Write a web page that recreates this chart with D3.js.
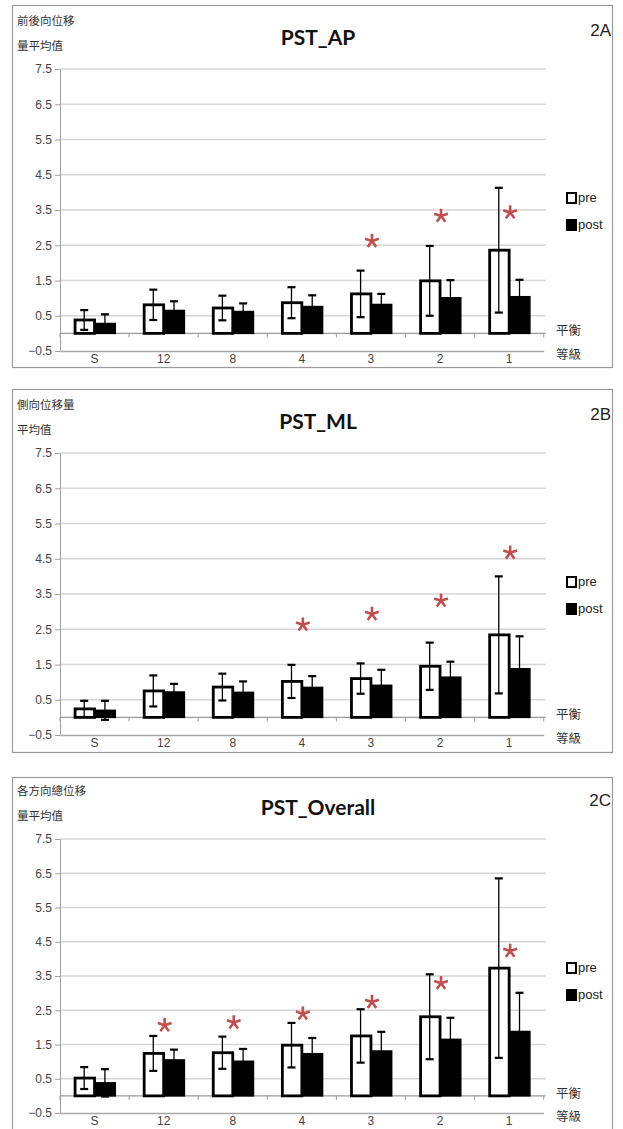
<!DOCTYPE html>
<html>
<head>
<meta charset="utf-8">
<script src="https://cdn.jsdelivr.net/npm/d3@7"></script>
<style>
  body { margin: 0; background: #fff; }
  text { font-family: "Liberation Sans Narrow", "Liberation Sans", Arial, sans-serif; }
  .cjk { font-family: "Noto Sans CJK TC", "Noto Sans CJK SC", sans-serif; }
  .title { font-family: Lato, "Open Sans", sans-serif; font-weight: bold; }
</style>
</head>
<body>
<div id="chart"></div>
<script>
// balance levels on the x axis
const categories = ['S', '12', '8', '4', '3', '2', '1'];
const yTicks = [-0.5, 0.5, 1.5, 2.5, 3.5, 4.5, 5.5, 6.5, 7.5];

// 2A  PST_AP
const apPre = [0.38, 0.81, 0.72, 0.87, 1.12, 1.49, 2.36];
const apPreSd = [0.28, 0.43, 0.35, 0.44, 0.66, 0.99, 1.77];
const apPost = [0.28, 0.65, 0.62, 0.76, 0.82, 1.01, 1.04];
const apPostSd = [0.26, 0.26, 0.23, 0.32, 0.30, 0.50, 0.48];
const apStars = [null, null, null, null, 2.62, 3.33, 3.43];

// 2B  PST_ML
const mlPre = [0.24, 0.75, 0.86, 1.02, 1.10, 1.45, 2.34];
const mlPreSd = [0.23, 0.44, 0.38, 0.47, 0.43, 0.67, 1.66];
const mlPost = [0.20, 0.72, 0.71, 0.85, 0.91, 1.14, 1.38];
const mlPostSd = [0.27, 0.23, 0.31, 0.32, 0.44, 0.44, 0.92];
const mlStars = [null, null, null, 2.63, 2.93, 3.31, 4.67];

// 2C  PST_Overall
const ovPre = [0.52, 1.24, 1.26, 1.48, 1.75, 2.31, 3.73];
const ovPreSd = [0.32, 0.51, 0.47, 0.65, 0.78, 1.24, 2.62];
const ovPost = [0.38, 1.05, 1.01, 1.23, 1.31, 1.65, 1.88];
const ovPostSd = [0.40, 0.30, 0.36, 0.46, 0.56, 0.63, 1.13];
const ovStars = [null, 2.06, 2.14, 2.40, 2.74, 3.29, 4.23];

const W = 623, H = 1129;
const svg = d3.select('#chart').append('svg')
    .attr('width', W)
    .attr('height', H);

// 5-arm asterisk used for the significance marks
const asterisk = {
    draw(context, size) {
        const r = Math.sqrt(size) / 2;
        for (let k = 0; k < 5; k++) {
            const a = -Math.PI / 2 + k * 2 * Math.PI / 5;
            context.moveTo(0, 0);
            context.lineTo(r * Math.cos(a), r * Math.sin(a));
        }
    }
};

const panels = [
    {frameTop: 5.5, frameBottom: 367.5, yTop: 69, yBottom: 351, title: 'PST_AP', tag: '2A',
     ylab: ['前後向位移', '量平均值'], pre: apPre, preSd: apPreSd, post: apPost, postSd: apPostSd, stars: apStars},
    {frameTop: 389.5, frameBottom: 752.5, yTop: 453, yBottom: 735, title: 'PST_ML', tag: '2B',
     ylab: ['側向位移量', '平均值'], pre: mlPre, preSd: mlPreSd, post: mlPost, postSd: mlPostSd, stars: mlStars},
    {frameTop: 777.5, frameBottom: 1140, yTop: 839, yBottom: 1113, title: 'PST_Overall', tag: '2C',
     ylab: ['各方向總位移', '量平均值'], pre: ovPre, preSd: ovPreSd, post: ovPost, postSd: ovPostSd, stars: ovStars}
];

const left = 60, right = 543.7;

panels.forEach(p => {
    const g = svg.append('g');

    // frame
    g.append('rect')
        .attr('x', 12.5).attr('y', p.frameTop)
        .attr('width', 600).attr('height', p.frameBottom - p.frameTop)
        .attr('fill', 'none')
        .attr('stroke', '#9a9a9a')
        .attr('stroke-width', 1.2);

    const y = d3.scaleLinear().domain([-0.5, 7.5]).range([p.yBottom, p.yTop]);
    const x = d3.scaleBand().domain(categories).range([left, right])
        .paddingInner(0.4).paddingOuter(0.2);
    const xs = d3.scaleBand().domain(['pre', 'post']).range([0, x.bandwidth()]);
    const step = x.step();

    // gridlines
    g.selectAll('.grid')
        .data(yTicks.filter(d => d > -0.5))
        .enter().append('line')
        .attr('x1', left).attr('x2', left + 7 * step + 2)
        .attr('y1', d => y(d)).attr('y2', d => y(d))
        .attr('stroke', '#d6d6d6')
        .attr('stroke-width', 1.5);

    // y axis
    const yAxis = g.append('g')
        .attr('transform', `translate(${left},0)`)
        .call(d3.axisLeft(y).tickValues(yTicks).tickFormat(d3.format('.1f')).tickSize(5).tickSizeOuter(0));
    yAxis.select('.domain').attr('stroke', '#a0a0a0');
    yAxis.selectAll('.tick line').attr('stroke', '#a0a0a0');
    yAxis.selectAll('.tick text')
        .attr('fill', '#444')
        .attr('font-size', 12)
        .attr('font-family', '"Liberation Sans Narrow", "Liberation Sans", sans-serif');

    // x axis labels along the -0.5 line
    const xAxis = g.append('g')
        .attr('transform', `translate(0,${y(-0.5)})`)
        .call(d3.axisBottom(x).tickSize(0).tickPadding(3).tickSizeOuter(0));
    xAxis.select('.domain').attr('stroke', '#a8a8a8').attr('stroke-width', 1.3);
    xAxis.selectAll('.tick text')
        .attr('fill', '#444')
        .attr('font-size', 12)
        .attr('font-family', '"Liberation Sans Narrow", "Liberation Sans", sans-serif');

    // zero baseline with category separators
    g.append('line')
        .attr('x1', left).attr('x2', left + 7 * step + 2)
        .attr('y1', y(0)).attr('y2', y(0))
        .attr('stroke', '#9a9a9a')
        .attr('stroke-width', 1.3);
    g.selectAll('.sep')
        .data(d3.range(8))
        .enter().append('line')
        .attr('x1', i => left + i * step).attr('x2', i => left + i * step)
        .attr('y1', y(0)).attr('y2', y(0) + 4)
        .attr('stroke', '#9a9a9a');

    const rows = categories.map((c, i) => ({
        c,
        pre: p.pre[i], preSd: p.preSd[i],
        post: p.post[i], postSd: p.postSd[i],
        star: p.stars[i]
    }));

    // bars
    const bw = xs.bandwidth();
    g.selectAll('.post')
        .data(rows)
        .enter().append('rect')
        .attr('x', d => x(d.c) + xs('post'))
        .attr('y', d => y(d.post))
        .attr('width', bw)
        .attr('height', d => y(0) - y(d.post))
        .attr('fill', '#000')
        .attr('stroke', '#000')
        .attr('stroke-width', 1.5);
    g.selectAll('.pre')
        .data(rows)
        .enter().append('rect')
        .attr('x', d => x(d.c) + xs('pre') + 1.25)
        .attr('y', d => y(d.pre))
        .attr('width', bw - 1.25)
        .attr('height', d => y(0) - y(d.pre))
        .attr('fill', '#fff')
        .attr('stroke', '#000')
        .attr('stroke-width', 2.8);

    // error bars
    const errs = [];
    rows.forEach(d => {
        errs.push({cx: x(d.c) + xs('pre') + bw / 2, m: d.pre, s: d.preSd});
        errs.push({cx: x(d.c) + xs('post') + bw / 2, m: d.post, s: d.postSd});
    });
    const eg = g.selectAll('.err')
        .data(errs)
        .enter().append('g')
        .attr('stroke', '#000');
    eg.append('line')
        .attr('x1', d => d.cx).attr('x2', d => d.cx)
        .attr('y1', d => y(d.m + d.s)).attr('y2', d => y(d.m - d.s))
        .attr('stroke-width', 1.3);
    eg.append('line')
        .attr('x1', d => d.cx - 4).attr('x2', d => d.cx + 4)
        .attr('y1', d => y(d.m + d.s)).attr('y2', d => y(d.m + d.s))
        .attr('stroke-width', 2.2);
    eg.append('line')
        .attr('x1', d => d.cx - 4).attr('x2', d => d.cx + 4)
        .attr('y1', d => y(d.m - d.s)).attr('y2', d => y(d.m - d.s))
        .attr('stroke-width', 2.2);

    // significance asterisks
    g.selectAll('.star')
        .data(rows.filter(d => d.star !== null))
        .enter().append('path')
        .attr('d', d3.symbol().type(asterisk).size(210))
        .attr('transform', d => `translate(${x(d.c) + x.bandwidth() / 2 + 1},${y(d.star)})`)
        .attr('fill', 'none')
        .attr('stroke', '#c0504d')
        .attr('stroke-width', 2.6);

    // titles
    g.append('text')
        .attr('class', 'title')
        .attr('x', 318).attr('y', p.yTop - 24)
        .attr('text-anchor', 'middle')
        .attr('font-size', 21)
        .attr('fill', '#111')
        .text(p.title);
    g.append('text')
        .attr('x', 611).attr('y', p.yTop - 33)
        .attr('text-anchor', 'end')
        .attr('font-size', 17)
        .attr('font-family', 'Lato, sans-serif')
        .attr('fill', '#222')
        .text(p.tag);
    p.ylab.forEach((t, i) => {
        g.append('text')
            .attr('class', 'cjk')
            .attr('x', 17).attr('y', p.yTop - 44 + i * 25)
            .attr('font-size', 11.5)
            .attr('fill', '#333')
            .text(t);
    });

    // 平衡 / 等級 at the right end of the axes
    g.append('text').attr('class', 'cjk')
        .attr('x', 556).attr('y', y(0) + 2)
        .attr('font-size', 12.5).attr('fill', '#333')
        .text('平衡');
    g.append('text').attr('class', 'cjk')
        .attr('x', 556).attr('y', y(-0.5) + 8)
        .attr('font-size', 12.5).attr('fill', '#333')
        .text('等級');

    // legend
    const lg = g.append('g');
    [['pre', '#fff', 129], ['post', '#000', 156]].forEach(([name, fill, dy]) => {
        lg.append('rect')
            .attr('x', 567).attr('y', p.yTop + dy - 5)
            .attr('width', 9).attr('height', 10)
            .attr('fill', fill)
            .attr('stroke', '#000')
            .attr('stroke-width', 2);
        lg.append('text')
            .attr('x', 578).attr('y', p.yTop + dy + 4)
            .attr('font-size', 13)
            .attr('fill', '#222')
            .text(name);
    });
});
</script>
</body>
</html>
